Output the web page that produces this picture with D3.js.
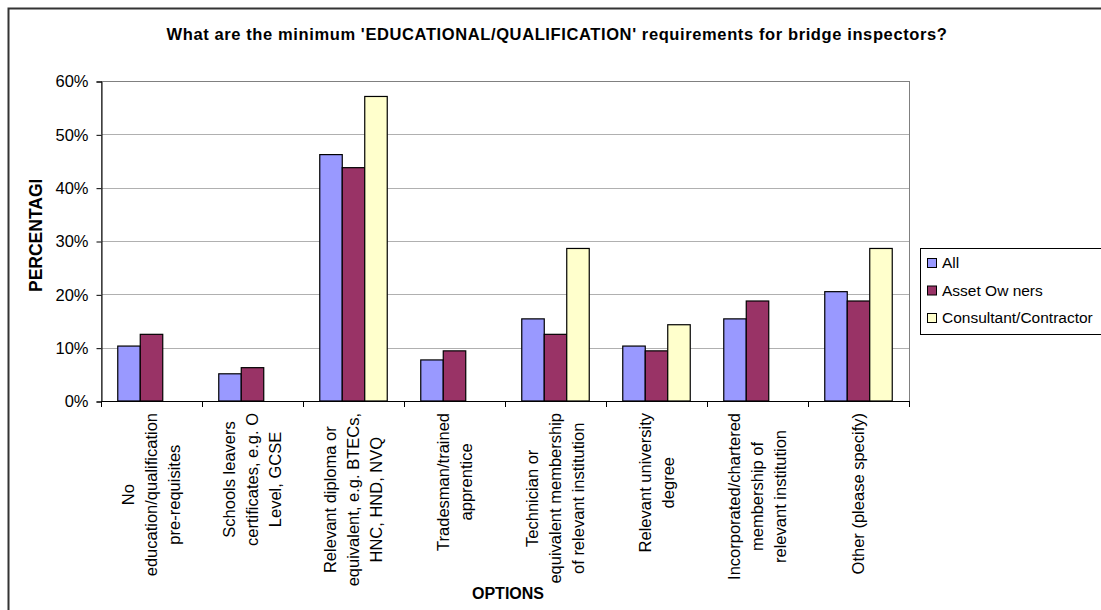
<!DOCTYPE html>
<html>
<head>
<meta charset="utf-8">
<script src="https://cdn.jsdelivr.net/npm/d3@7"></script>
<style>
    html, body { margin: 0; padding: 0; background: #fff; }
    svg { display: block; font-family: 'Liberation Sans', Arial, sans-serif; }
</style>
</head>
<body>
<svg id="chart" width="1101" height="610"></svg>
<script>
// Chart values.
const categories = [
    ['No', 'education/qualification', 'pre-requisites'],
    ['Schools leavers', 'certificates, e.g. O', 'Level, GCSE'],
    ['Relevant diploma or', 'equivalent, e.g. BTECs,', 'HNC, HND, NVQ'],
    ['Tradesman/trained', 'apprentice'],
    ['Technician or', 'equivalent membership', 'of relevant institution'],
    ['Relevant university', 'degree'],
    ['Incorporated/chartered', 'membership of', 'relevant institution'],
    ['Other (please specify)']
];
const seriesNames = ['All', 'Asset Ow ners', 'Consultant/Contractor'];
const seriesColors = ['#9999ff', '#993366', '#ffffcc'];
const allValues = [0.103, 0.051, 0.462, 0.077, 0.154, 0.103, 0.154, 0.205];
const assetOwnerValues = [0.125, 0.0625, 0.4375, 0.094, 0.125, 0.094, 0.1875, 0.1875];
const consultantValues = [0, 0, 0.571, 0, 0.286, 0.143, 0, 0.286];
const yTicks = [0, 0.1, 0.2, 0.3, 0.4, 0.5, 0.6];

document.addEventListener('DOMContentLoaded', () => {
    'use strict';

    const svg = d3.select('#chart');
    const plot = { left: 101, right: 909, top: 81, bottom: 401 };
    const seriesValues = [allValues, assetOwnerValues, consultantValues];

    let x0 = d3.scaleBand()
        .domain(d3.range(categories.length))
        .range([plot.left, plot.right]);
    let x1 = d3.scaleBand()
        .domain(d3.range(seriesNames.length))
        .range([0, x0.bandwidth()])
        .paddingOuter(0.745);
    let y = d3.scaleLinear()
        .domain([0, 0.6])
        .range([plot.bottom, plot.top]);

    // Outer chart frame (runs off the right and bottom of the picture).
    svg.append('rect')
        .attr('x', 8.5).attr('y', 8.5)
        .attr('width', 1110).attr('height', 620)
        .attr('fill', '#fff')
        .attr('stroke', '#333')
        .attr('stroke-width', 2);

    let title = svg.append('text')
        .attr('x', 557).attr('y', 40)
        .attr('text-anchor', 'middle')
        .style('font-size', '16.5px')
        .style('font-weight', 'bold')
        .text("What are the minimum 'EDUCATIONAL/QUALIFICATION' requirements for bridge inspectors?");
    // Excel spreads the title a little wider than the browser does.
    const TITLE_WIDTH = 781;
    let titleLength = title.node().getComputedTextLength();
    title.style('letter-spacing', ((TITLE_WIDTH - titleLength) / title.text().length) + 'px');

    // Plot area border (top and right) and gridlines.
    svg.append('rect')
        .attr('x', plot.left + 0.5).attr('y', plot.top + 0.5)
        .attr('width', plot.right - plot.left).attr('height', plot.bottom - plot.top)
        .attr('fill', '#fff')
        .attr('stroke', '#808080');

    svg.append('g')
        .selectAll('line')
        .data(yTicks.slice(1, -1))
      .enter().append('line')
        .attr('x1', plot.left).attr('x2', plot.right)
        .attr('y1', d => Math.round(y(d)) + 0.5)
        .attr('y2', d => Math.round(y(d)) + 0.5)
        .attr('stroke', '#b0b0b0');

    // Bars.
    svg.append('g')
        .selectAll('g')
        .data(categories.map((c, i) => i))
      .enter().append('g')
        .attr('transform', i => 'translate(' + x0(i) + ',0)')
        .selectAll('rect')
        .data(i => seriesValues.map((values, s) => ({ s: s, value: values[i] })).filter(d => d.value > 0))
      .enter().append('rect')
        .attr('x', d => x1(d.s))
        .attr('y', d => y(d.value))
        .attr('width', x1.bandwidth())
        .attr('height', d => plot.bottom - y(d.value))
        .attr('fill', d => seriesColors[d.s])
        .attr('stroke', '#000')
        .attr('stroke-width', 1.2);

    // Y axis.
    let yAxis = svg.append('g')
        .attr('transform', 'translate(' + (plot.left + 0.5) + ',0.5)')
        .call(d3.axisLeft(y).tickValues(yTicks).tickFormat(d3.format('.0%')).tickSize(5).tickPadding(8));
    yAxis.select('.domain').attr('stroke', '#000');
    yAxis.selectAll('text')
        .style('font-size', '16.5px')
        .style('font-family', "'Liberation Sans', Arial, sans-serif")
        .attr('fill', '#000');

    // X axis: ticks at category boundaries.
    svg.append('line')
        .attr('x1', plot.left).attr('x2', plot.right + 1)
        .attr('y1', plot.bottom + 0.5).attr('y2', plot.bottom + 0.5)
        .attr('stroke', '#000');
    svg.append('g')
        .selectAll('line')
        .data(d3.range(categories.length + 1))
      .enter().append('line')
        .attr('x1', i => Math.round(plot.left + i * x0.bandwidth()) + 0.5)
        .attr('x2', i => Math.round(plot.left + i * x0.bandwidth()) + 0.5)
        .attr('y1', plot.bottom)
        .attr('y2', plot.bottom + 6)
        .attr('stroke', '#000');

    // Rotated category labels, each block top-aligned under the axis.
    const LINE_HEIGHT = 23;
    const LABEL_TOP = 413;
    let labels = svg.append('g')
        .selectAll('text')
        .data(categories)
      .enter().append('text')
        .attr('transform', (d, i) => 'translate(' + (x0(i) + x0.bandwidth() / 2) + ',' + LABEL_TOP + ') rotate(-90)')
        .attr('text-anchor', 'middle')
        .style('font-size', '16.5px');
    labels.each(function(lines) {
        let text = d3.select(this);
        let spans = text.selectAll('tspan')
            .data(lines)
          .enter().append('tspan')
            .attr('y', (d, j) => (j - (lines.length - 1) / 2) * LINE_HEIGHT)
            .attr('dy', '0.35em')
            .text(d => d);
        let maxLength = d3.max(spans.nodes().map(node => node.getComputedTextLength()));
        spans.attr('x', -maxLength / 2);
    });

    svg.append('text')
        .attr('x', 508).attr('y', 599)
        .attr('text-anchor', 'middle')
        .style('font-size', '16px')
        .style('font-weight', 'bold')
        .text('OPTIONS');

    // Y axis title, clipped at the top as in the original.
    svg.append('clipPath')
        .attr('id', 'y-title-clip')
      .append('rect')
        .attr('x', 0).attr('y', 180)
        .attr('width', 60).attr('height', 200);
    svg.append('g')
        .attr('clip-path', 'url(#y-title-clip)')
      .append('text')
        .attr('transform', 'translate(42,292) rotate(-90)')
        .style('font-size', '17.5px')
        .style('font-weight', 'bold')
        .text('PERCENTAGE');

    // Legend.
    let legend = svg.append('g');
    legend.append('rect')
        .attr('x', 920.5).attr('y', 248.5)
        .attr('width', 200).attr('height', 86)
        .attr('fill', '#fff')
        .attr('stroke', '#000');
    let legendItems = legend.selectAll('g')
        .data(seriesNames)
      .enter().append('g')
        .attr('transform', (d, i) => 'translate(927,' + (263 + i * 27.5) + ')');
    legendItems.append('rect')
        .attr('x', 0.5).attr('y', -4.5)
        .attr('width', 9).attr('height', 9)
        .attr('fill', (d, i) => seriesColors[i])
        .attr('stroke', '#000');
    legendItems.append('text')
        .attr('x', 15).attr('dy', '0.35em')
        .style('font-size', '15.5px')
        .text(d => d);
});
</script>
</body>
</html>
